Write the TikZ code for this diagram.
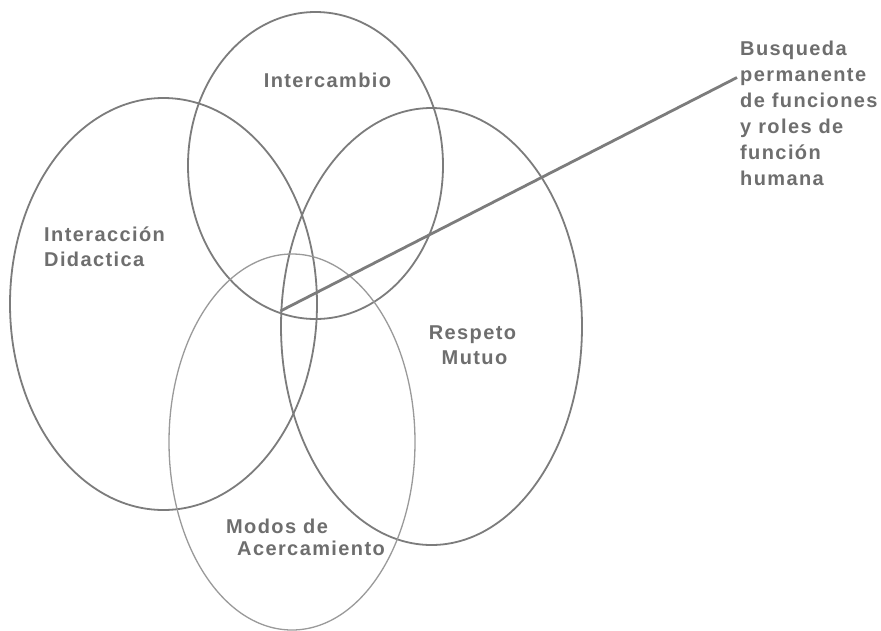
\documentclass[tikz,border=0pt]{standalone}
\usepackage{fontspec}
\setmainfont{Liberation Sans}
\newfontfamily\labfont[LetterSpace=7]{Liberation Sans Bold}
\definecolor{strokegray}{HTML}{7C7C7C}
\definecolor{lightstroke}{HTML}{9A9A9A}
\definecolor{textgray}{HTML}{6E6E6E}
\tikzset{
  ring/.style={draw=strokegray, line width=1.8pt},
  thinring/.style={draw=lightstroke, line width=1.3pt},
  lab/.style={inner sep=0pt, text=textgray, font=\labfont\fontsize{20}{26}\selectfont},
  conn/.style={draw=strokegray, line width=2.8pt}
}
\begin{document}
\begin{tikzpicture}[x=1pt,y=-1pt]
\useasboundingbox[fill=white] (0,0) rectangle (881,630);
% ellipses
\draw[ring] (163.5,304) ellipse [x radius=153.5pt, y radius=206pt];
\draw[ring] (315.5,165.5) ellipse [x radius=127.5pt, y radius=153.5pt];
\draw[ring] (431.5,326.5) ellipse [x radius=150.5pt, y radius=218.5pt];
\draw[thinring] (292,442) ellipse [x radius=123pt, y radius=188pt];
% labels
\node[lab, anchor=base] (inter) at (327.5,87) {Intercambio};
\node[lab, anchor=base west] (id1) at (44,241) {Interacción};
\node[lab, anchor=base west] (id2) at (44,266) {Didactica};
\node[lab, anchor=base] (rm1) at (472.5,339) {Respeto};
\node[lab, anchor=base] (rm2) at (474.5,364) {Mutuo};
\node[lab, anchor=base west] (ma1) at (226,533) {Modos de};
\node[lab, anchor=base west] (ma2) at (237,555) {Acercamiento};
\node[lab, anchor=base west] (b1) at (740,55) {Busqueda};
\node[lab, anchor=base west] (b2) at (740,81) {permanente};
\node[lab, anchor=base west] (b3) at (740,107) {de funciones};
\node[lab, anchor=base west] (b4) at (740,133) {y roles de};
\node[lab, anchor=base west] (b5) at (740,159) {función};
\node[lab, anchor=base west] (b6) at (740,185) {humana};
% connector
\coordinate (hub) at (280.5,311);
\coordinate (tip) at (737,77.5);
\draw[conn] (hub) -- (tip);
\end{tikzpicture}
\end{document}
